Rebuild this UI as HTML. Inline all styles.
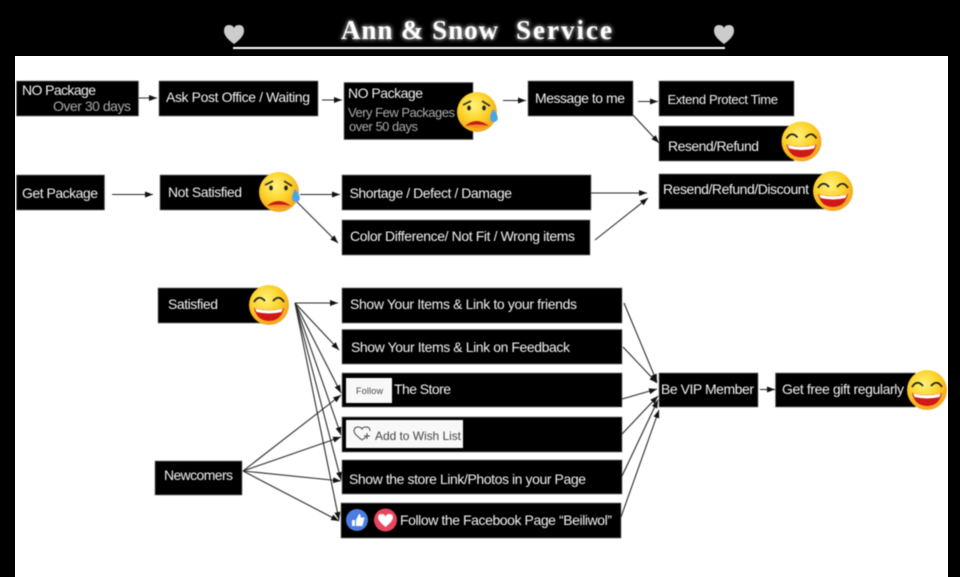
<!DOCTYPE html>
<html><head><meta charset="utf-8"><style>
html,body{margin:0;padding:0;background:#000}
svg{display:block}
text{font-family:"Liberation Sans",sans-serif;font-size:14px;fill:#f2f2f2}
.g{fill:#aaa}
.b{fill:#000;stroke:#777;stroke-width:.7}
.l{stroke:#2a2a2a;stroke-width:1.1;fill:none;marker-end:url(#a)}
.t{font-family:"Liberation Serif",serif;font-weight:bold;font-size:27px;fill:#fff}
</style></head><body>
<svg xmlns="http://www.w3.org/2000/svg" width="960" height="577" viewBox="0 0 960 577">
<defs>
<marker id="a" markerWidth="9" markerHeight="7" refX="8" refY="3" orient="auto" markerUnits="userSpaceOnUse"><path d="M0 0L8 3L0 6Z" fill="#111"/></marker>
<radialGradient id="y" cx=".42" cy=".35" r=".72"><stop offset="0" stop-color="#fff27a"/><stop offset=".5" stop-color="#fdd22a"/><stop offset=".85" stop-color="#f5a81c"/><stop offset="1" stop-color="#eaa84e"/></radialGradient>
<filter id="gl" x="-10%" y="-40%" width="120%" height="180%"><feGaussianBlur stdDeviation="2.2" result="b"/><feMerge><feMergeNode in="b"/><feMergeNode in="SourceGraphic"/></feMerge></filter>
<filter id="soft" filterUnits="userSpaceOnUse" x="0" y="0" width="960" height="577" color-interpolation-filters="sRGB"><feGaussianBlur stdDeviation=".4"/></filter>
<g id="happy">
<circle r="20" fill="url(#y)"/>
<path d="M-15-3Q-10-11-4-4M4-4Q10-11 15-3" stroke="#222" stroke-width="1.8" fill="none"/>
<path d="M-15 3Q0 7 15 3Q12 16 0 16Q-12 16-15 3Z" fill="#d01818"/>
<path d="M-14 3.500Q0 7 14 3.500L12.500 7Q0 10-12.500 7Z" fill="#fff"/>
</g>
<g id="sad">
<circle r="20" fill="url(#y)"/>
<path d="M-14-7L-6-11M5-11L13-6" stroke="#333" stroke-width="1.8" fill="none"/>
<ellipse cx="-8" cy="-4" rx="1.800" ry="2.500" fill="#222"/><ellipse cx="7" cy="-4" rx="1.800" ry="2.500" fill="#222"/>
<path d="M-12 14Q-1 4 12 14Q0 12-12 14Z" fill="#c81515"/>
<path d="M-13 14Q0 11 13 14Q0 18-13 14Z" fill="#f09020"/>
<path d="M16-3Q22 4 20.500 8Q17 12 13.500 8Q12 4 16-3Z" fill="#4aa5e8"/>
</g>
</defs>
<rect width="960" height="577" fill="#000"/>
<rect x="15" y="56" width="933" height="521" fill="#fff"/>
<g filter="url(#soft)">
<g filter="url(#gl)">
<text class="t" x="341" y="39" textLength="157" lengthAdjust="spacing">Ann &amp; Snow</text>
<text class="t" x="516" y="39" textLength="96" lengthAdjust="spacing">Service</text>
</g>
<rect x="233" y="47" width="492" height="2" fill="#fff"/>
<path d="M234 44Q224 37 224 31Q224 25 229 25Q233 25 234 28Q235 25 239 25Q244 25 244 31Q244 37 234 44Z" fill="#ccc"/>
<path d="M724 44Q714 37 714 31Q714 25 719 25Q723 25 724 28Q725 25 729 25Q734 25 734 31Q734 37 724 44Z" fill="#ccc"/>

<rect class="b" x="16.500" y="81" width="122" height="35"/>
<rect class="b" x="159" y="81" width="159" height="35"/>
<rect class="b" x="344" y="82.500" width="129" height="57"/>
<rect class="b" x="528" y="81" width="105" height="35"/>
<rect class="b" x="659" y="81" width="135" height="35"/>
<rect class="b" x="659" y="126" width="135" height="35"/>
<rect class="b" x="16.500" y="175" width="88" height="35"/>
<rect class="b" x="160" y="175" width="112" height="35"/>
<rect class="b" x="342" y="175" width="249" height="35"/>
<rect class="b" x="342" y="220" width="248" height="35"/>
<rect class="b" x="659" y="174" width="175" height="35"/>
<rect class="b" x="158" y="288" width="105" height="35"/>
<rect class="b" x="155" y="461" width="87" height="34"/>
<rect class="b" x="342" y="288" width="280" height="35"/>
<rect class="b" x="342" y="329.500" width="280" height="34.500"/>
<rect class="b" x="342" y="373" width="280" height="34"/>
<rect class="b" x="342" y="417" width="280" height="35"/>
<rect class="b" x="342" y="460" width="280" height="34"/>
<rect class="b" x="341" y="503" width="280" height="35"/>
<rect class="b" x="659" y="373" width="99" height="34"/>
<rect class="b" x="775.500" y="373" width="140" height="34"/>

<g>
<path class="l" d="M139 98H157"/><path class="l" d="M322 100H342"/><path class="l" d="M503 100.500H526"/><path class="l" d="M638 101.500H658"/><path class="l" d="M633 115L659 143"/>
<path class="l" d="M112 194.500H153"/><path class="l" d="M300 194.500H340"/><path class="l" d="M296 201L338 243"/><path class="l" d="M591 193H647"/><path class="l" d="M595 240L648 198"/>
<path class="l" d="M295 303H338"/><path class="l" d="M295 303L339 350"/><path class="l" d="M295 303L341 393"/><path class="l" d="M295 303L341 435"/><path class="l" d="M295 303L341 480"/><path class="l" d="M295 303L339 520"/>
<path class="l" d="M243 471L341 395"/><path class="l" d="M243 471L341 437"/><path class="l" d="M243 471L341 481"/><path class="l" d="M243 471L339 521"/>
<path class="l" d="M624 303L657 382"/><path class="l" d="M623 347L657 383"/><path class="l" d="M622 399L657 389"/><path class="l" d="M622 434L658 396"/><path class="l" d="M622 476L658 400"/><path class="l" d="M621 517L659 410"/>
<path class="l" d="M760 389.500H775"/>
</g>

<text x="22" y="95" textLength="74">NO Package</text>
<text class="g" x="53" y="111" textLength="78">Over 30 days</text>
<text x="166" y="102" textLength="144">Ask Post Office / Waiting</text>
<text x="348" y="98" textLength="75">NO Package</text>
<text class="g" x="348" y="117" textLength="107" style="font-size:13px">Very Few Packages</text>
<text class="g" x="349" y="131" textLength="69" style="font-size:13px">over 50 days</text>
<text x="535" y="103" textLength="90">Message to me</text>
<text x="667.500" y="104" textLength="110.500" style="font-size:13px">Extend Protect Time</text>
<text x="668" y="151" textLength="91">Resend/Refund</text>
<text x="22" y="198" textLength="76">Get Package</text>
<text x="168" y="197" textLength="74">Not Satisfied</text>
<text x="349.500" y="198" textLength="162.500">Shortage / Defect / Damage</text>
<text x="350" y="241" textLength="225">Color Difference/ Not Fit / Wrong items</text>
<text x="663" y="194" textLength="146">Resend/Refund/Discount</text>
<text x="168" y="309" textLength="50">Satisfied</text>
<text x="164" y="480" textLength="69">Newcomers</text>
<text x="350" y="309" textLength="227">Show Your Items &amp; Link to your friends</text>
<text x="351" y="352" textLength="219">Show Your Items &amp; Link on Feedback</text>
<rect x="346" y="378" width="46" height="25" fill="#f8f8f8"/>
<text x="356" y="394" textLength="27" style="font-size:9px;fill:#444">Follow</text>
<text x="394" y="394" textLength="57">The Store</text>
<rect x="346" y="420" width="117" height="28" fill="#f8f8f8"/>
<path d="M362 440Q354 434 354 431Q354 427 358 427Q361 427 362 429Q363 427 366 427Q370 427 370 431" stroke="#444" stroke-width="1" fill="none"/>
<path d="M362 440L366 437M367 433V439M364 436H370" stroke="#444" stroke-width="1" fill="none"/>
<text x="375" y="440" textLength="86" style="font-size:12px;fill:#444">Add to Wish List</text>
<text x="349" y="484" textLength="237">Show the store Link/Photos in your Page</text>
<circle cx="357" cy="520" r="11" fill="#4a7ee0"/>
<path d="M352 520h3v6h-3zM356 520l3-6q2 0 1.500 3.500h3.500q1 1 0 2l-1.500 6.500h-6.500z" fill="#fff"/>
<circle cx="385.500" cy="520" r="11.500" fill="#e8455f"/>
<path d="M385.500 527Q378 521 378 517.500Q378 514 381.500 514Q384.500 514 385.500 516.500Q386.500 514 389.500 514Q393 514 393 517.500Q393 521 385.500 527Z" fill="#fff"/>
<text x="400" y="525" textLength="212">Follow the Facebook Page “Beiliwol”</text>
<text x="661" y="394" textLength="93">Be VIP Member</text>
<text x="782" y="394" textLength="122">Get free gift regularly</text>

<use href="#sad" x="477" y="112"/>
<use href="#sad" x="279" y="192"/>
<use href="#happy" x="801.500" y="141.500"/>
<use href="#happy" x="833" y="191"/>
<use href="#happy" x="269" y="305"/>
<use href="#happy" x="927" y="390"/>
</g>
</svg>
</body></html>
